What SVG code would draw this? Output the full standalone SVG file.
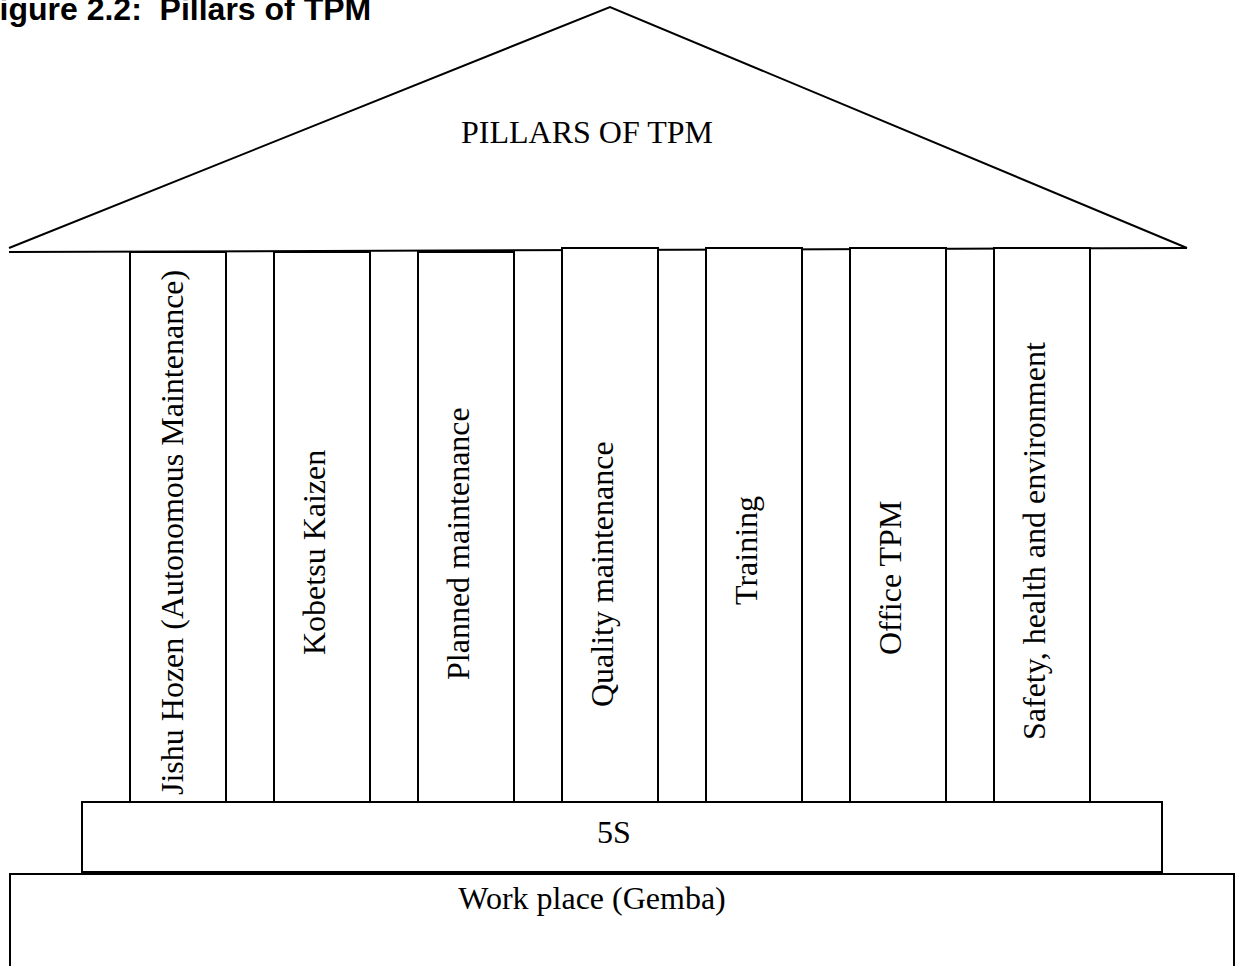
<svg xmlns="http://www.w3.org/2000/svg" width="1235" height="966" viewBox="0 0 1235 966">
<style>
.ln{fill:none;stroke:#000;stroke-width:2}
.bx{fill:#fff;stroke:#000;stroke-width:2}
.t{font-family:"Liberation Serif","Times New Roman",serif;font-size:32px;fill:#000}
.ttl{font-family:"Liberation Sans",Arial,sans-serif;font-size:32px;font-weight:bold;fill:#000}
</style>
<rect width="1235" height="966" fill="#fff"/>
<text class="ttl" x="-20" y="20" xml:space="preserve">Figure 2.2:  Pillars of TPM</text>
<g id="roof">
<polyline class="ln" points="9,248 610,7 1187,248"/>
<line class="ln" x1="9" y1="252" x2="1187" y2="248"/>
<text class="t" x="587" y="143" text-anchor="middle">PILLARS OF TPM</text>
</g>
<g id="pillar1">
<rect class="bx" x="130" y="252" width="96" height="550"/>
<text class="t" transform="translate(183,795) rotate(-90)">Jishu Hozen (Autonomous Maintenance)</text>
</g>
<g id="pillar2">
<rect class="bx" x="274" y="252" width="96" height="550"/>
<text class="t" transform="translate(325,655) rotate(-90)">Kobetsu Kaizen</text>
</g>
<g id="pillar3">
<rect class="bx" x="418" y="252" width="96" height="550"/>
<text class="t" transform="translate(469,680) rotate(-90)">Planned maintenance</text>
</g>
<g id="pillar4">
<rect class="bx" x="562" y="248" width="96" height="554"/>
<text class="t" transform="translate(613,707) rotate(-90)">Quality maintenance</text>
</g>
<g id="pillar5">
<rect class="bx" x="706" y="248" width="96" height="554"/>
<text class="t" transform="translate(757,605) rotate(-90)">Training</text>
</g>
<g id="pillar6">
<rect class="bx" x="850" y="248" width="96" height="554"/>
<text class="t" transform="translate(901,655) rotate(-90)">Office TPM</text>
</g>
<g id="pillar7">
<rect class="bx" x="994" y="248" width="96" height="554"/>
<text class="t" transform="translate(1045,740) rotate(-90)">Safety, health and environment</text>
</g>
<g id="fiveS">
<rect class="bx" x="82" y="802" width="1080" height="70"/>
<text class="t" x="614" y="843" text-anchor="middle">5S</text>
</g>
<g id="workplace">
<rect class="bx" x="10" y="874" width="1224" height="110"/>
<text class="t" x="592" y="909" text-anchor="middle">Work place (Gemba)</text>
</g>
<g id="connectors"></g>
</svg>
